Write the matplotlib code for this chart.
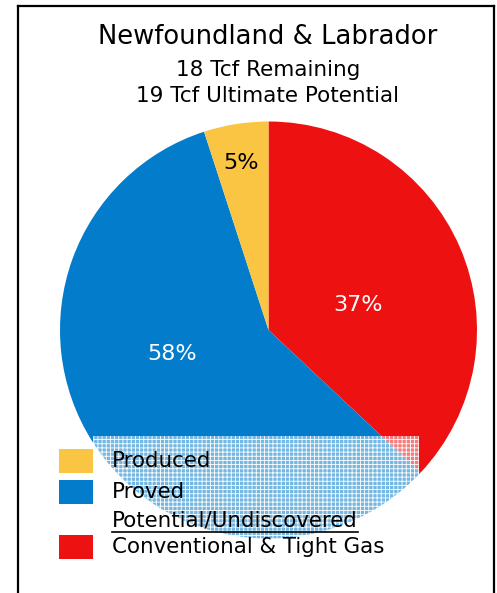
import matplotlib
matplotlib.use("Agg")
import matplotlib.pyplot as plt
from matplotlib.patches import Rectangle
from matplotlib.lines import Line2D

# Gas resource shares (percent), drawn clockwise from 12 o'clock
categories = ["Conventional & Tight Gas", "Proved", "Produced"]
shares = [37, 58, 5]
colors = ["#EE1111", "#037DCB", "#FBC544"]
label_colors = ["white", "white", "black"]
label_xy = [(0.43, 0.12), (-0.46, -0.115), (-0.13, 0.80)]

title = "Newfoundland & Labrador"
subtitles = ["18 Tcf Remaining", "19 Tcf Ultimate Potential"]

legend_items = [("Produced", "#FBC544"), ("Proved", "#037DCB"),
                ("Potential/Undiscovered", None),
                ("Conventional & Tight Gas", "#EE1111")]

plt.rcParams["hatch.linewidth"] = 0.6
plt.rcParams["hatch.color"] = "white"

W, H = 497, 593
fig = plt.figure(figsize=(W / 100, H / 100), dpi=100)

def fx(px):
    return px / W

def fy(py):
    return 1 - py / H

# pie axes: centre (268.5, 330), radius 208.5 px
cx, cy, r = 268.5, 330, 208.5
ax = fig.add_axes([fx(cx - r), fy(cy + r), 2 * r / W, 2 * r / H])
wedges, texts, autotexts = ax.pie(
    shares, colors=colors, startangle=90, counterclock=False,
    autopct="%d%%", radius=1, wedgeprops=dict(linewidth=0),
    textprops=dict(fontsize=16))
for t, c, xy in zip(autotexts, label_colors, label_xy):
    t.set_color(c)
    t.set_position(xy)
ax.set_xlim(-1, 1)
ax.set_ylim(-1, 1)
ax.set_aspect("equal")
ax.axis("off")

# frame around the chart
for xs, ys in [([18, 18], [6, 600]), ([494, 494], [6, 600]), ([18, 494], [6, 6])]:
    fig.add_artist(Line2D([fx(x) for x in xs], [fy(y) for y in ys],
                          color="black", linewidth=1.6))

# titles
fig.text(fx(268), fy(37), title, ha="center", va="center", fontsize=18.6)
fig.text(fx(268), fy(70), subtitles[0], ha="center", va="center", fontsize=15.5)
fig.text(fx(268), fy(96), subtitles[1], ha="center", va="center", fontsize=15.5)

# legend backdrop: translucent cross-hatched panel
panel = Rectangle((fx(93), fy(560)), fx(419) - fx(93), fy(436) - fy(560),
                  transform=fig.transFigure, facecolor=(1, 1, 1, 0.45),
                  edgecolor="white", hatch="++++", linewidth=0, zorder=3)
fig.add_artist(panel)

# legend entries
row_y = [461, 492, 521, 547]
for (lab, col), y in zip(legend_items, row_y):
    if col is not None:
        fig.add_artist(Rectangle((fx(59), fy(y + 12)), fx(93) - fx(59),
                                 fy(y - 12) - fy(y + 12),
                                 transform=fig.transFigure, facecolor=col,
                                 linewidth=0, zorder=4))
    t = fig.text(fx(112), fy(y), lab, ha="left", va="center",
                 fontsize=15.4, zorder=5)
    if col is None:
        fig.canvas.draw()
        bb = t.get_window_extent()
        fig.add_artist(Line2D([bb.x0 / W, bb.x1 / W],
                              [(bb.y0 - 1) / H, (bb.y0 - 1) / H],
                              color="black", linewidth=1.2, zorder=5))

fig.savefig("out.png", dpi=100)
